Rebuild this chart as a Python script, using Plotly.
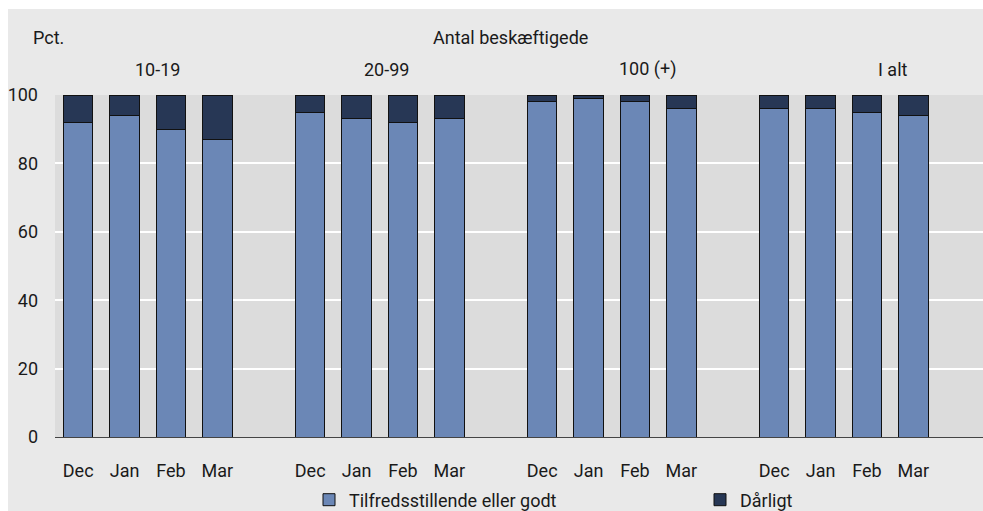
import plotly.graph_objects as go

groups = ["10-19", "20-99", "100 (+)", "I alt"]
months = ["Dec", "Jan", "Feb", "Mar"]
good = [92, 94, 90, 87, 95, 93, 92, 93, 98, 99, 98, 96, 96, 96, 95, 94]
bad = [8, 6, 10, 13, 5, 7, 8, 7, 2, 1, 2, 4, 4, 4, 5, 6]
series_names = ["Tilfredsstillende eller godt", "Dårligt"]

FONT = "Roboto"
FS = 18
W, H = 983, 511
ML, MR, MT, MB = 55, 0, 95, 74
PW, PH = W - ML - MR, H - MT - MB

# category slots with one empty slot between groups
xpos = [g * (len(months) + 1) + m for g in range(len(groups)) for m in range(len(months))]
ticktext = [months[m] for g in range(len(groups)) for m in range(len(months))]
nslots = len(groups) * (len(months) + 1) - 1

def px_x(p):
    return (p - ML) / PW

def px_y(p):
    return (H - MB - p) / PH

fig = go.Figure()
fig.add_trace(go.Bar(x=xpos, y=good, name=series_names[0], legend="legend", showlegend=True,
                     marker=dict(color="#6b87b6", line=dict(color="#111111", width=1))))
fig.add_trace(go.Bar(x=xpos, y=bad, name=series_names[1], legend="legend2", showlegend=True,
                     marker=dict(color="#273755", line=dict(color="#111111", width=1))))

shapes = [
    dict(type="rect", xref="paper", yref="paper", layer="below",
         x0=px_x(8), x1=px_x(W + 40), y0=px_y(H + 40), y1=px_y(9),
         fillcolor="#e9e9e9", line=dict(width=0)),
    dict(type="rect", xref="paper", yref="paper", layer="below",
         x0=0, x1=1, y0=0, y1=1, fillcolor="#dcdcdc", line=dict(width=0)),
]

annotations = [
    dict(text="Pct.", xref="paper", yref="paper", x=px_x(31), y=px_y(38),
         xanchor="left", yanchor="middle", showarrow=False),
    dict(text="Antal beskæftigede", xref="paper", yref="paper", x=px_x(510), y=px_y(38),
         xanchor="center", yanchor="middle", showarrow=False),
]
group_label_px = [157, 386, 647, 893]
for name, gx in zip(groups, group_label_px):
    annotations.append(dict(text=name, xref="paper", yref="paper", x=px_x(gx), y=px_y(69),
                            xanchor="center", yanchor="middle", showarrow=False))

legend_common = dict(orientation="h", xref="paper", yref="paper", yanchor="middle",
                     xanchor="left", bgcolor="rgba(0,0,0,0)", borderwidth=0,
                     font=dict(family=FONT, size=FS), itemwidth=30, visible=True)

fig.update_layout(
    width=W, height=H, autosize=False, showlegend=True,
    margin=dict(l=ML, r=MR, t=MT, b=MB, pad=0, autoexpand=False),
    paper_bgcolor="white", plot_bgcolor="rgba(0,0,0,0)",
    font=dict(family=FONT, size=FS, color="#1a1a1a"),
    barmode="stack", bargap=0.365,
    shapes=shapes, annotations=annotations,
    legend=dict(legend_common, x=px_x(309), y=px_y(500)),
    legend2=dict(legend_common, x=px_x(700), y=px_y(500)),
    xaxis=dict(range=[-0.5, nslots + 0.5], tickmode="array", tickvals=xpos, ticktext=ticktext,
               showgrid=False, zeroline=False, showline=False, ticks="",
               ticklabelstandoff=21, fixedrange=True, automargin=False),
    yaxis=dict(range=[0, 100], tickmode="array", tickvals=[0, 20, 40, 60, 80, 100],
               showgrid=True, gridcolor="white", gridwidth=2,
               zeroline=True, zerolinecolor="#444444", zerolinewidth=1,
               showline=False, ticks="", ticklabelstandoff=16, fixedrange=True,
               automargin=False),
)

fig.write_html("out.html", config={"displayModeBar": False},
               post_script="document.body.style.margin='0px';document.body.style.padding='0px';")
